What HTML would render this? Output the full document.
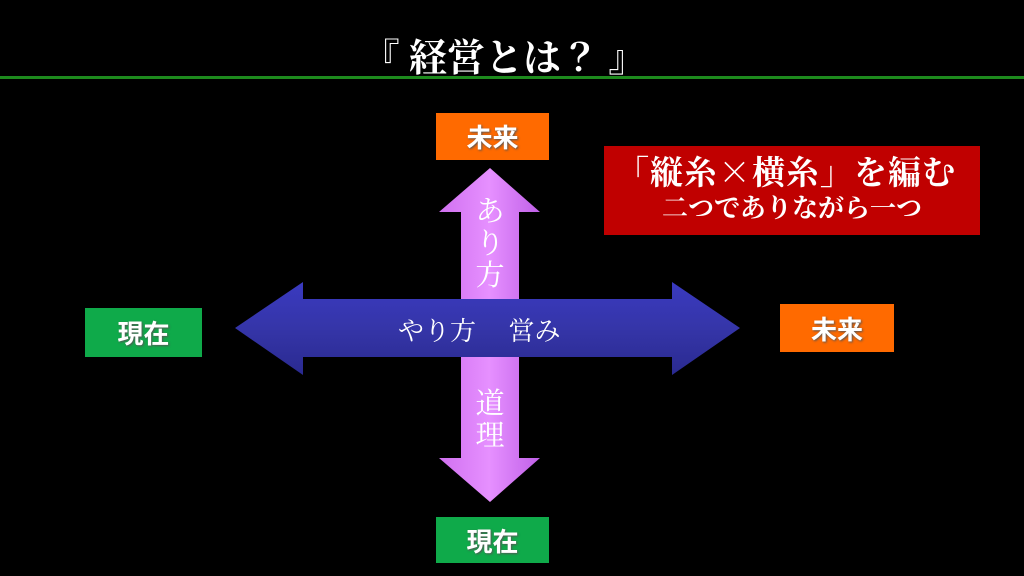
<!DOCTYPE html>
<html><head><meta charset="utf-8"><style>
body{margin:0;width:1024px;height:576px;background:#000;overflow:hidden;position:relative;font-family:"Liberation Serif","Noto Serif CJK JP",serif;}
.box{position:absolute;color:#fff;font-weight:bold;font-size:26px;display:flex;align-items:center;justify-content:center;font-family:"Liberation Sans","Noto Sans CJK JP",sans-serif;text-shadow:1px 1px 2px #555;}
.g{background:#0faa4a}.o{background:#ff6a00}
</style></head><body>
<div style="position:absolute;left:0;top:27px;width:1008px;text-align:center;color:#fff;font-weight:bold;font-size:38px;font-family:'Noto Serif CJK JP',serif;">『 経営とは？ 』</div>
<div style="position:absolute;left:0;top:76px;width:1024px;height:3px;background:#1d8a1d"></div>
<svg style="position:absolute;left:0;top:0" width="1024" height="576">
<defs>
<linearGradient id="v" x1="0" x2="1"><stop offset="0" stop-color="#d070f0"/><stop offset="0.5" stop-color="#e690ff"/><stop offset="1" stop-color="#c060e8"/></linearGradient>
<linearGradient id="h" x1="0" y1="0" x2="0" y2="1"><stop offset="0" stop-color="#3a3ac0"/><stop offset="0.5" stop-color="#3535a8"/><stop offset="1" stop-color="#2a2a90"/></linearGradient>
</defs>
<polygon points="490,168 540,212 519,212 519,458 540,458 490,502 439,458 461,458 461,212 439,212" fill="url(#v)"/>
<polygon points="235,328 303,282 303,299 672,299 672,282 740,328 672,375 672,357 303,357 303,375" fill="url(#h)"/>
</svg>
<div style="position:absolute;left:472px;top:196px;width:36px;color:#fff;font-size:29px;line-height:32px;text-align:center;">あ<br>り<br>方</div>
<div style="position:absolute;left:472px;top:388px;width:36px;color:#fff;font-size:29px;line-height:32px;text-align:center;">道<br>理</div>
<div style="position:absolute;left:398px;top:311px;color:#fff;font-size:26px;white-space:pre;">やり方　 営み</div>
<div class="box o" style="left:436px;top:113px;width:113px;height:47px">未来</div>
<div class="box g" style="left:85px;top:308px;width:117px;height:49px">現在</div>
<div class="box o" style="left:780px;top:304px;width:114px;height:48px">未来</div>
<div class="box g" style="left:436px;top:517px;width:113px;height:46px">現在</div>
<div style="position:absolute;left:604px;top:146px;width:376px;height:89px;background:#c00000;color:#fff;font-family:'Noto Serif CJK JP',serif;">
<div style="position:absolute;left:12px;top:4px;font-size:33px;font-weight:bold;line-height:42px;letter-spacing:1px;white-space:nowrap;">「縦糸×横糸」を編む</div>
<div style="position:absolute;left:0;top:46px;width:376px;text-align:center;font-size:26px;font-weight:bold;line-height:30px;">二つでありながら一つ</div>
</div>
</body></html>
